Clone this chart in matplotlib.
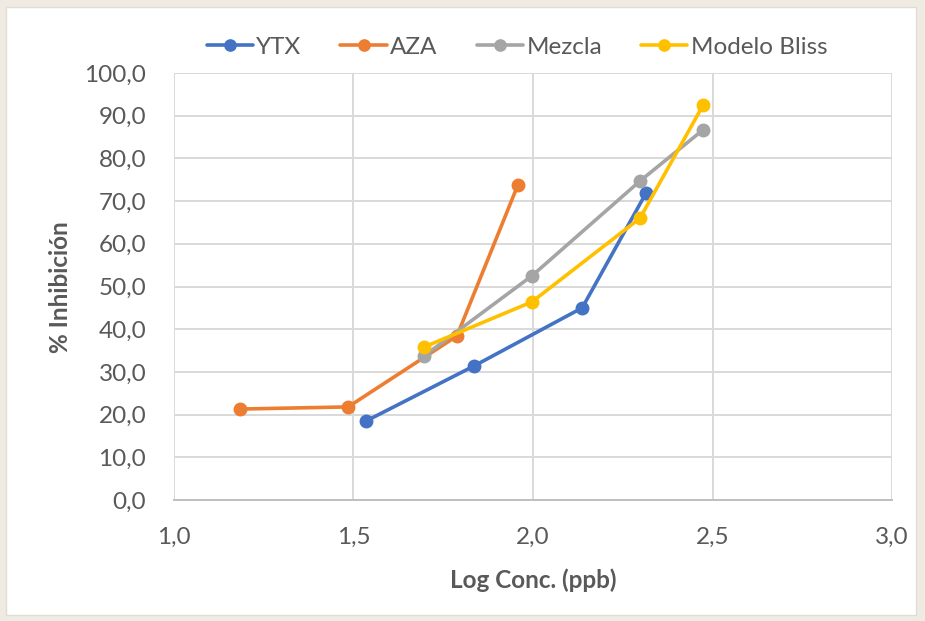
import matplotlib
matplotlib.use("Agg")
import matplotlib.pyplot as plt
from matplotlib.patches import FancyBboxPatch
from matplotlib.ticker import FuncFormatter, MultipleLocator

# Data
ytx_x = [1.535, 1.836, 2.137, 2.315]
ytx_y = [18.5, 31.4, 45.0, 71.9]
aza_x = [1.184, 1.485, 1.788, 1.958]
aza_y = [21.3, 21.8, 38.4, 73.8]
mez_x = [1.696, 1.997, 2.298, 2.474]
mez_y = [33.7, 52.5, 74.7, 86.7]
bliss_x = [1.696, 1.997, 2.298, 2.474]
bliss_y = [35.8, 46.4, 66.0, 92.5]
series_names = ["YTX", "AZA", "Mezcla", "Modelo Bliss"]
colors = ["#4472C4", "#ED7D31", "#A5A5A5", "#FFC000"]

plt.rcParams['font.family'] = ['Lato', 'DejaVu Sans']

fig = plt.figure(figsize=(9.25, 6.21), dpi=100)
fig.patch.set_facecolor("#efebe2")
panel = FancyBboxPatch((6/925, 6/621), 910/925, 608/621,
                       boxstyle="square,pad=0", transform=fig.transFigure,
                       facecolor="white", edgecolor="#e0ddd5", linewidth=1, zorder=-5)
fig.patches.append(panel)

ax = fig.add_axes([174/925, 1-500/621, (892-174)/925, (500-73)/621])
ax.set_zorder(2)
ax.set_facecolor("white")

for (xs, ys), name, c in zip([(ytx_x, ytx_y), (aza_x, aza_y), (mez_x, mez_y), (bliss_x, bliss_y)],
                             series_names, colors):
    ax.plot(xs, ys, color=c, lw=2.6, marker="o", ms=9, label=name, zorder=3,
            solid_capstyle="round")

ax.set_xlim(1.0, 3.0)
ax.set_ylim(0, 100)
ax.xaxis.set_major_locator(MultipleLocator(0.5))
ax.yaxis.set_major_locator(MultipleLocator(10))
fmt1 = FuncFormatter(lambda v, p: f"{v:.1f}".replace(".", ","))
ax.xaxis.set_major_formatter(fmt1)
ax.yaxis.set_major_formatter(fmt1)
ax.grid(True, color="#d9d9d9", lw=1.4, zorder=0)
ax.set_axisbelow(True)
for s in ["top", "right", "left"]:
    ax.spines[s].set_visible(False)
ax.spines["bottom"].set_color("#bfbfbf")
ax.spines["bottom"].set_linewidth(1.4)
ax.tick_params(length=0, labelsize=17.5, labelcolor="#595959")
ax.tick_params(axis="x", pad=19)
ax.tick_params(axis="y", pad=20)

fig.text(60/925, 1-287/621, "% Inhibición", rotation=90, ha="center", va="center",
         fontsize=17.5, fontweight="bold", color="#595959")
fig.text(533/925, 1-580/621, "Log Conc. (ppb)", ha="center", va="center",
         fontsize=17.5, fontweight="bold", color="#595959")

leg = fig.legend(loc="center", bbox_to_anchor=(517/925, 1-47/621), ncol=4, frameon=False,
                 fontsize=17.5, handlelength=1.9, columnspacing=1.6, handletextpad=0.15,
                 markerscale=0.9)
for t in leg.get_texts():
    t.set_color("#595959")

fig.savefig("out.png", dpi=100, facecolor=fig.get_facecolor())
